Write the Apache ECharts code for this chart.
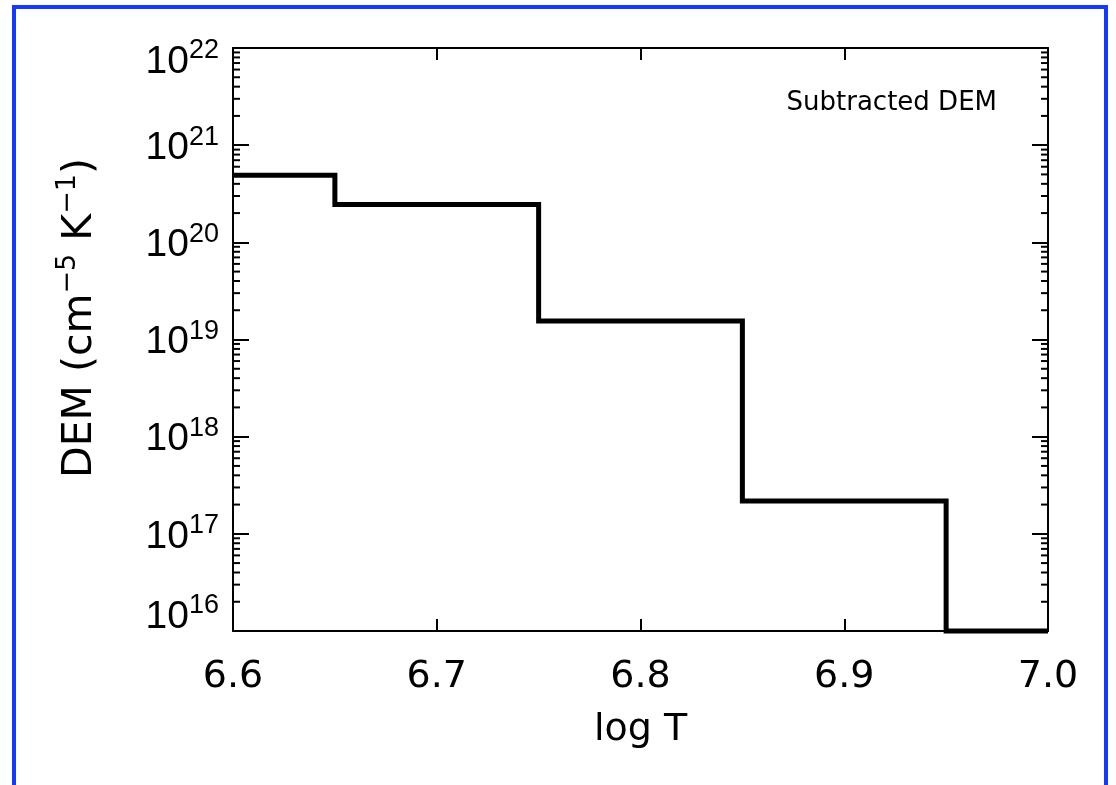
<!DOCTYPE html>
<html>
<head>
<meta charset="utf-8">
<title>Subtracted DEM</title>
<script src="https://cdn.jsdelivr.net/npm/echarts@6/dist/echarts.min.js"></script>
<style>
  html, body { margin: 0; padding: 0; background: #ffffff; }
  #chart { width: 1116px; height: 785px; }
</style>
</head>
<body>
<div id="chart"></div>
<script>
// Binned DEM profile: bin centres in log T and the DEM value in each bin
const logT = [6.6, 6.7, 6.8, 6.9, 7.0];
const dem = [4.9e20, 2.45e20, 1.55e19, 2.18e17, 1.0e16];

// Axis ranges and tick spacing
const xMin = 6.6, xMax = 7.0, xStep = 0.1;
const yMin = 1e16, yMax = 1e22;

// Minor tick positions (2..9 × each decade) for the log axis
const minorMultipliers = [2, 3, 4, 5, 6, 7, 8, 9];
const decades = [16, 17, 18, 19, 20, 21];

const minorTicks = [];
decades.forEach(function (d) {
  minorMultipliers.forEach(function (m) {
    minorTicks.push([xMin, m * Math.pow(10, d)]);
  });
});

const stepData = logT.map(function (t, i) { return [t, dem[i]]; });

const sansX = '"DejaVu Sans", sans-serif';
const sansY = '"Liberation Sans", Arial, sans-serif';

// Power-of-ten tick labels; the end labels are kept inside the axis span
function yLabel(v) {
  const e = Math.round(Math.log10(v));
  if (e === 16) return '{bLo|10}{sLo|' + e + '}';
  if (e === 22) return '{bHi|10}{sHi|' + e + '}';
  return '{b|10}{s|' + e + '}';
}

const base = { fontFamily: sansY, fontSize: 39, lineHeight: 40, color: '#000' };
const sup = { fontFamily: sansY, fontSize: 27, lineHeight: 26, color: '#000' };
const yRich = {
  b:   Object.assign({}, base, { padding: [6, 0, 0, 0] }),
  s:   Object.assign({}, sup,  { padding: [0, 0, 16, 0] }),
  bLo: Object.assign({}, base, { padding: [0, 0, 28, 0] }),
  sLo: Object.assign({}, sup,  { padding: [0, 0, 50, 0] }),
  bHi: Object.assign({}, base, { padding: [28, 0, 0, 0] }),
  sHi: Object.assign({}, sup,  { padding: [6, 0, 0, 0] })
};

const chart = echarts.init(document.getElementById('chart'), null, { renderer: 'canvas' });

const option = {
  backgroundColor: '#ffffff',
  animation: false,
  grid: { left: 233, right: 68, top: 48, bottom: 154 },
  xAxis: [
    {
      type: 'value',
      position: 'bottom',
      min: xMin, max: xMax, interval: xStep,
      name: 'log T',
      nameLocation: 'middle',
      nameGap: 80,
      nameTextStyle: { fontFamily: sansX, fontSize: 38, color: '#000' },
      axisLine: { show: true, onZero: false, lineStyle: { color: '#000', width: 2 } },
      axisTick: { show: true, inside: true, length: 12, lineStyle: { color: '#000', width: 2 } },
      axisLabel: {
        margin: 27,
        fontFamily: sansX, fontSize: 38, color: '#000',
        formatter: function (v) { return v.toFixed(1); }
      },
      splitLine: { show: false }
    },
    {
      type: 'value',
      position: 'top',
      min: xMin, max: xMax, interval: xStep,
      axisLine: { show: true, onZero: false, lineStyle: { color: '#000', width: 2 } },
      axisTick: { show: true, inside: true, length: 12, lineStyle: { color: '#000', width: 2 } },
      axisLabel: { show: false },
      splitLine: { show: false }
    }
  ],
  yAxis: [
    {
      type: 'log',
      logBase: 10,
      position: 'left',
      min: yMin, max: yMax,
      splitNumber: 6,
      axisLine: { show: true, onZero: false, lineStyle: { color: '#000', width: 2 } },
      axisTick: { show: true, inside: true, length: 16, lineStyle: { color: '#000', width: 2 } },
      axisLabel: { margin: 14, formatter: yLabel, rich: yRich },
      splitLine: { show: false }
    },
    {
      type: 'log',
      logBase: 10,
      position: 'right',
      min: yMin, max: yMax,
      splitNumber: 6,
      axisLine: { show: true, onZero: false, lineStyle: { color: '#000', width: 2 } },
      axisTick: { show: true, inside: true, length: 16, lineStyle: { color: '#000', width: 2 } },
      axisLabel: { show: false },
      splitLine: { show: false }
    }
  ],
  graphic: [
    {
      // page frame
      type: 'rect',
      shape: { x: 14, y: 7, width: 1092, height: 900 },
      style: { fill: null, stroke: '#1438ff', lineWidth: 4 },
      silent: true,
      z: 0
    },
    {
      type: 'text',
      x: 997, y: 103,
      style: {
        text: 'Subtracted DEM',
        fontFamily: sansX, fontSize: 26, fill: '#000',
        align: 'right', verticalAlign: 'middle'
      }
    },
    {
      type: 'text',
      x: 80, y: 318,
      rotation: Math.PI / 2,
      style: {
        text: '{t|DEM (cm}{s|−5}{t| K}{s|−1}{t|)}',
        align: 'center', verticalAlign: 'middle',
        rich: {
          t: { fontFamily: sansX, fontSize: 41, lineHeight: 44, fill: '#000' },
          s: { fontFamily: sansX, fontSize: 27, lineHeight: 27, fill: '#000', padding: [0, 0, 24, 0] }
        }
      }
    }
  ],
  series: [
    {
      name: 'Subtracted DEM',
      type: 'line',
      xAxisIndex: 0,
      yAxisIndex: 0,
      data: stepData,
      step: 'middle',
      showSymbol: false,
      symbol: 'none',
      clip: false,
      lineStyle: { color: '#000', width: 5, join: 'miter', cap: 'butt' },
      z: 3
    },
    {
      name: 'minor ticks',
      type: 'custom',
      xAxisIndex: 0,
      yAxisIndex: 0,
      data: minorTicks,
      clip: false,
      silent: true,
      renderItem: function (params, api) {
        const v = api.value(1);
        const pL = api.coord([xMin, v]);
        const pR = api.coord([xMax, v]);
        return {
          type: 'group',
          children: [
            { type: 'line', shape: { x1: pL[0], y1: pL[1], x2: pL[0] + 7, y2: pL[1] }, style: { stroke: '#000', lineWidth: 2 } },
            { type: 'line', shape: { x1: pR[0], y1: pR[1], x2: pR[0] - 7, y2: pR[1] }, style: { stroke: '#000', lineWidth: 2 } }
          ]
        };
      },
      z: 2
    }
  ]
};

chart.setOption(option);
</script>
</body>
</html>
